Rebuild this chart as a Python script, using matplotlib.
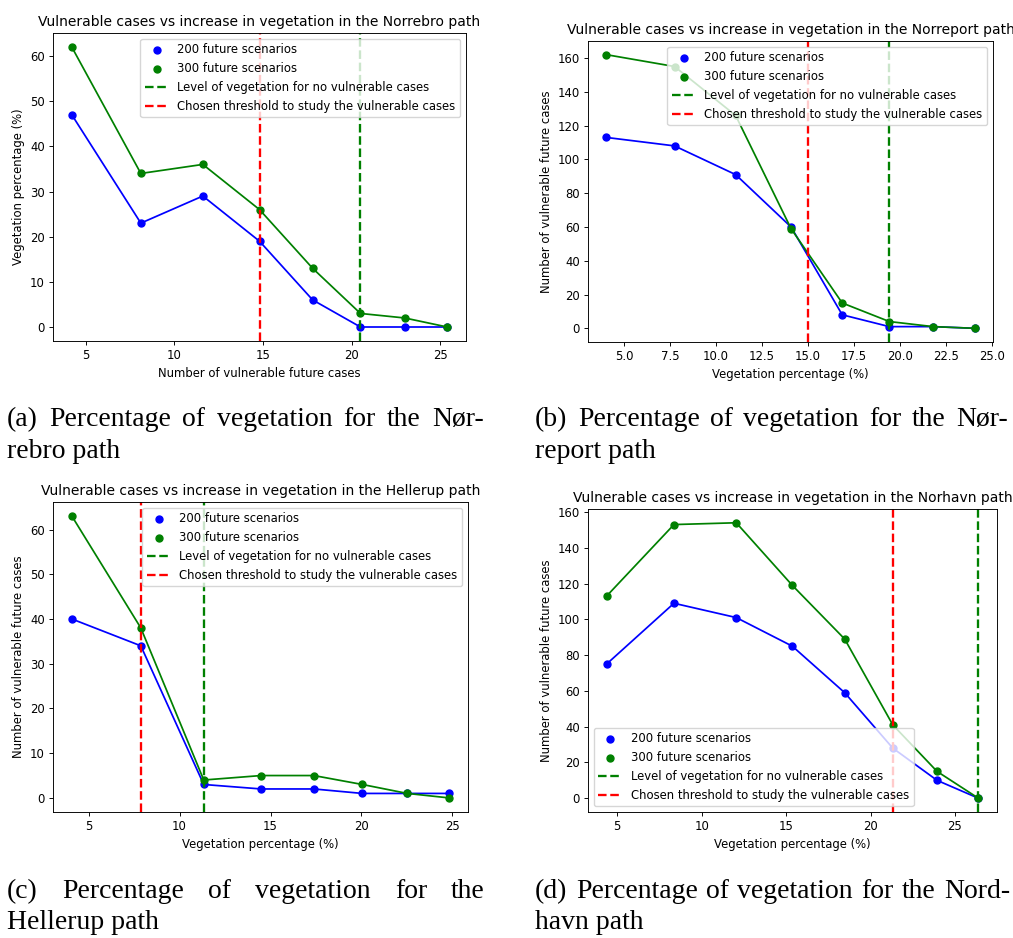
import matplotlib
matplotlib.use("Agg")
import matplotlib.pyplot as plt

# ---- data -------------------------------------------------------------
norrebro_x = [4.2, 8.1, 11.6, 14.8, 17.8, 20.5, 23.0, 25.4]
norrebro_200 = [47, 23, 29, 19, 6, 0, 0, 0]
norrebro_300 = [62, 34, 36, 26, 13, 3, 2, 0]
norrebro_threshold = 14.8
norrebro_zero = 20.5

norreport_x = [4.05, 7.75, 11.07, 14.08, 16.86, 19.42, 21.8, 24.05]
norreport_200 = [113, 108, 91, 60, 8, 1, 1, 0]
norreport_300 = [162, 155, 126, 59, 15, 4, 1, 0]
norreport_threshold = 15.0
norreport_zero = 19.42

hellerup_x = [4.08, 7.87, 11.33, 14.49, 17.38, 20.05, 22.52, 24.82]
hellerup_200 = [40, 34, 3, 2, 2, 1, 1, 1]
hellerup_300 = [63, 38, 4, 5, 5, 3, 1, 0]
hellerup_threshold = 7.87
hellerup_zero = 11.33

nordhavn_x = [4.37, 8.36, 12.05, 15.37, 18.47, 21.32, 23.94, 26.39]
nordhavn_200 = [75, 109, 101, 85, 59, 28, 10, 0]
nordhavn_300 = [113, 153, 154, 119, 89, 41, 15, 0]
nordhavn_threshold = 21.32
nordhavn_zero = 26.39

titles = [
    "Vulnerable cases vs increase in vegetation in the Norrebro path",
    "Vulnerable cases vs increase in vegetation in the Norreport path",
    "Vulnerable cases vs increase in vegetation in the Hellerup path",
    "Vulnerable cases vs increase in vegetation in the Norhavn path",
]
xlabels = ["Number of vulnerable future cases", "Vegetation percentage (%)",
           "Vegetation percentage (%)", "Vegetation percentage (%)"]
ylabels = ["Vegetation percentage (%)", "Number of vulnerable future cases",
           "Number of vulnerable future cases", "Number of vulnerable future cases"]
legend_locs = ["upper right", "upper right", "upper right", "lower left"]
captions = [
    ("(a) Percentage of vegetation for the Nør-", "rebro path"),
    ("(b) Percentage of vegetation for the Nør-", "report path"),
    ("(c) Percentage of vegetation for the", "Hellerup path"),
    ("(d) Percentage of vegetation for the Nord-", "havn path"),
]

panels = [
    (norrebro_x, norrebro_200, norrebro_300, norrebro_threshold, norrebro_zero),
    (norreport_x, norreport_200, norreport_300, norreport_threshold, norreport_zero),
    (hellerup_x, hellerup_200, hellerup_300, hellerup_threshold, hellerup_zero),
    (nordhavn_x, nordhavn_200, nordhavn_300, nordhavn_threshold, nordhavn_zero),
]

# ---- layout (pixels) --------------------------------------------------
W, H = 1013, 938
boxes = [  # left, right, top, bottom
    (53, 466, 33, 341),
    (588, 993, 41, 342),
    (53, 468, 502, 812),
    (588, 997, 509, 812),
]
S = 0.833  # shrink factor of each panel
plt.rcParams.update({
    "font.family": "DejaVu Sans",
    "font.size": 10 * S,
    "axes.titlesize": 12 * S,
    "axes.labelsize": 10 * S,
    "xtick.labelsize": 10 * S,
    "ytick.labelsize": 10 * S,
    "legend.fontsize": 10 * S,
    "axes.linewidth": 0.8 * S,
    "xtick.major.size": 3.5 * S,
    "ytick.major.size": 3.5 * S,
    "xtick.major.width": 0.8 * S,
    "ytick.major.width": 0.8 * S,
    "xtick.major.pad": 3.5 * S,
    "ytick.major.pad": 3.5 * S,
    "axes.titlepad": 6 * S,
    "axes.labelpad": 4 * S,
})

fig = plt.figure(figsize=(W / 100, H / 100), dpi=100)

for i, (x, y200, y300, thr, zero) in enumerate(panels):
    l, r, t, b = boxes[i]
    ax = fig.add_axes([l / W, 1 - b / H, (r - l) / W, (b - t) / H])
    ax.plot(x, y200, color="blue", lw=1.5 * S)
    ax.scatter(x, y200, color="blue", s=36 * S * S, label="200 future scenarios", zorder=2)
    ax.plot(x, y300, color="green", lw=1.5 * S)
    ax.scatter(x, y300, color="green", s=36 * S * S, label="300 future scenarios", zorder=2)
    ax.axvline(zero, color="green", ls="--", lw=2 * S,
               label="Level of vegetation for no vulnerable cases")
    ax.axvline(thr, color="red", ls="--", lw=2 * S,
               label="Chosen threshold to study the vulnerable cases")
    ax.set_title(titles[i])
    ax.set_xlabel(xlabels[i])
    ax.set_ylabel(ylabels[i])
    ax.legend(loc=legend_locs[i])

# ---- captions ---------------------------------------------------------
cap_font = dict(family="Liberation Serif", size=20)
renderer = fig.canvas.get_renderer()


def justified(line, x0, x1, y):
    words = line.split(" ")
    texts = [fig.text(0, 1 - y / H, w, va="baseline", ha="left", **cap_font) for w in words]
    widths = [tx.get_window_extent(renderer).width for tx in texts]
    gap = (x1 - x0 - sum(widths)) / (len(words) - 1)
    pos = x0
    for tx, w in zip(texts, widths):
        tx.set_x(pos / W)
        pos += w + gap


cap_rows = [(426, 458), (426, 458), (898, 928.5), (898, 928.5)]
cap_x = [(7, 484), (535, 1008), (7, 485), (535, 1010)]
for i, (l1, l2) in enumerate(captions):
    x0, x1 = cap_x[i]
    y1, y2 = cap_rows[i]
    justified(l1, x0, x1, y1)
    fig.text(x0 / W, 1 - y2 / H, l2, va="baseline", ha="left", **cap_font)

fig.savefig("out.png", dpi=100)
